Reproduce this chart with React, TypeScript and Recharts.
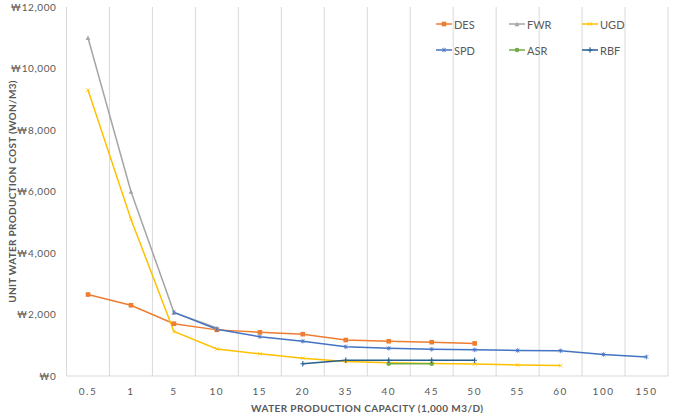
import React from 'react';
import { LineChart, Line, XAxis, YAxis, CartesianGrid, Label } from 'recharts';

// Water production capacity (1,000 m3/day)
const categories = ['0.5', '1', '5', '10', '15', '20', '35', '40', '45', '50', '55', '60', '100', '150'];

// Unit water production cost (KRW per m3) by technology
const des = [2650, 2300, 1700, 1500, 1420, 1360, 1170, 1130, 1100, 1060, null, null, null, null];
const fwr = [11000, 6000, 2070, 1560, null, null, null, null, null, null, null, null, null, null];
const ugd = [9300, 5100, 1450, 880, 720, 580, 470, 430, 410, 390, 360, 340, null, null];
const spd = [null, null, 2070, 1520, 1280, 1130, 950, 900, 870, 850, 830, 820, 700, 620];
const asr = [null, null, null, null, null, null, null, 400, 400, null, null, null, null, null];
const rbf = [null, null, null, null, null, 400, 510, 510, 510, 510, null, null, null, null];

const yTicks = [0, 2000, 4000, 6000, 8000, 10000, 12000];

const data = categories.map((c, i) => ({
  cap: c,
  DES: des[i],
  FWR: fwr[i],
  UGD: ugd[i],
  SPD: spd[i],
  ASR: asr[i],
  RBF: rbf[i],
}));

type MarkerKind = 'square' | 'triangle' | 'x' | 'star' | 'circle' | 'plus';

const series: { key: string; color: string; marker: MarkerKind }[] = [
  { key: 'DES', color: '#ED7D31', marker: 'square' },
  { key: 'FWR', color: '#A5A5A5', marker: 'triangle' },
  { key: 'UGD', color: '#FFC000', marker: 'x' },
  { key: 'SPD', color: '#4472C4', marker: 'star' },
  { key: 'ASR', color: '#70AD47', marker: 'circle' },
  { key: 'RBF', color: '#255E91', marker: 'plus' },
];

const FONT = 'Lato, "Open Sans", sans-serif';
const TEXT = '#595959';

function Marker({ kind, cx, cy, color }: { kind: MarkerKind; cx: number; cy: number; color: string }) {
  const s = 2.3;
  switch (kind) {
    case 'square':
      return <rect x={cx - s} y={cy - s} width={2 * s} height={2 * s} fill={color} />;
    case 'triangle':
      return (
        <path
          d={`M${cx},${cy - s} L${cx + s},${cy + s} L${cx - s},${cy + s} Z`}
          fill={color}
        />
      );
    case 'x':
      return (
        <path
          d={`M${cx - s + 0.5},${cy - s + 0.5} L${cx + s - 0.5},${cy + s - 0.5} M${cx - s + 0.5},${cy + s - 0.5} L${cx + s - 0.5},${cy - s + 0.5}`}
          stroke={color}
          strokeWidth={0.8}
        />
      );
    case 'star':
      return (
        <path
          d={`M${cx - s + 0.5},${cy - s + 0.5} L${cx + s - 0.5},${cy + s - 0.5} M${cx - s + 0.5},${cy + s - 0.5} L${cx + s - 0.5},${cy - s + 0.5} M${cx},${cy - s} L${cx},${cy + s}`}
          stroke={color}
          strokeWidth={0.8}
        />
      );
    case 'circle':
      return <circle cx={cx} cy={cy} r={s} fill={color} />;
    case 'plus':
      return (
        <path
          d={`M${cx - s},${cy} L${cx + s},${cy} M${cx},${cy - s - 0.5} L${cx},${cy + s + 0.5}`}
          stroke={color}
          strokeWidth={1.1}
        />
      );
  }
  return null;
}

const makeDot = (kind: MarkerKind, color: string) => (props: any) => {
  const { cx, cy, value, index } = props;
  if (value == null || cx == null || cy == null) return <g key={`e-${index}`} />;
  return (
    <g key={`m-${index}`}>
      <Marker kind={kind} cx={cx} cy={cy} color={color} />
    </g>
  );
};

function LegendBox() {
  return (
    <div
      style={{
        position: 'absolute',
        left: 436,
        top: 15,
        display: 'grid',
        gridTemplateColumns: 'repeat(3, 73px)',
        rowGap: 8,
        fontFamily: FONT,
        fontSize: 11,
        color: TEXT,
      }}
    >
      {series.map((s) => (
        <div key={s.key} style={{ display: 'flex', alignItems: 'center', height: 18 }}>
          <svg width={16} height={10} style={{ marginRight: 2 }}>
            <line x1={0} y1={5} x2={16} y2={5} stroke={s.color} strokeWidth={1.5} />
            <Marker kind={s.marker} cx={8} cy={5} color={s.color} />
          </svg>
          <span>{s.key}</span>
        </div>
      ))}
    </div>
  );
}

const won = (v: number) => '₩' + v.toLocaleString('en-US');

export default function App() {
  const n = categories.length;
  return (
    <div style={{ position: 'absolute', left: 0, top: 0, width: 673, height: 413, background: '#fff' }}>
      <LineChart
        width={673}
        height={413}
        data={data}
        margin={{ top: 7, right: 5, left: 0, bottom: 0 }}
      >
        <CartesianGrid
          horizontal={false}
          stroke="#D9D9D9"
          verticalCoordinatesGenerator={({ offset }: any) =>
            Array.from({ length: n + 1 }, (_, i) => offset.left + (i * offset.width) / n)
          }
        />
        <XAxis
          dataKey="cap"
          scale="band"
          height={37}
          tickLine={false}
          axisLine={{ stroke: '#D9D9D9' }}
          tick={{ fill: TEXT, fontSize: 10, fontFamily: FONT, letterSpacing: 1.5 }}
          tickMargin={6}
          interval={0}
        >
          <Label
            value="WATER PRODUCTION CAPACITY (1,000 M3/D)"
            position="insideBottom"
            offset={1}
            style={{ fill: TEXT, fontSize: 10, fontWeight: 700, fontFamily: FONT, letterSpacing: 0.4 }}
          />
        </XAxis>
        <YAxis
          width={66.5}
          domain={[0, 12000]}
          ticks={yTicks}
          tickFormatter={won}
          tickLine={false}
          axisLine={false}
          tick={{ fill: TEXT, fontSize: 10, fontFamily: FONT, letterSpacing: 0.6 }}
          tickMargin={4}
        >
          <Label
            value="UNIT WATER PRODUCTION COST (WON/M3)"
            position="center"
            angle={-90}
            dx={-21}
            style={{ fill: TEXT, fontSize: 10, fontWeight: 700, fontFamily: FONT, letterSpacing: 0.3 }}
          />
        </YAxis>
        {series.map((s) => (
          <Line
            key={s.key}
            dataKey={s.key}
            stroke={s.color}
            strokeWidth={1.5}
            dot={makeDot(s.marker, s.color)}
            activeDot={false}
            isAnimationActive={false}
            connectNulls={false}
          />
        ))}
      </LineChart>
      <LegendBox />
    </div>
  );
}
